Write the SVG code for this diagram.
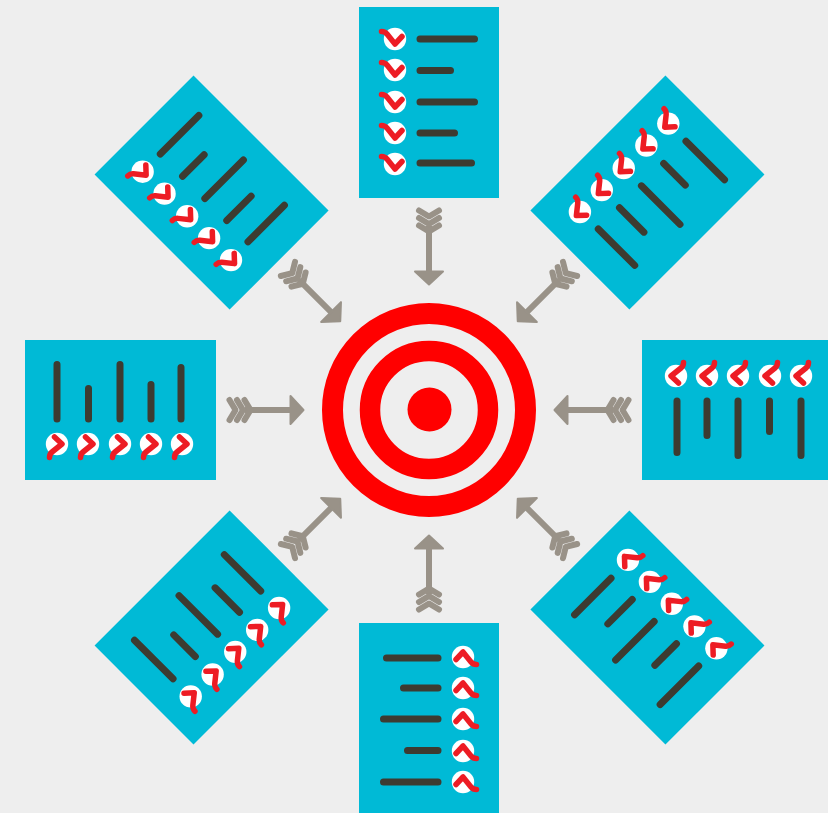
<svg xmlns="http://www.w3.org/2000/svg" xmlns:xlink="http://www.w3.org/1999/xlink" width="828" height="813" viewBox="0 0 828 813">
<style>
.sheet{fill:#00bad6}
.bar{stroke:#3d3b31;stroke-width:7;stroke-linecap:round;fill:none}
.dot{fill:#fff}
.tick{stroke:#ed1c24;stroke-width:5.500;stroke-linecap:round;stroke-linejoin:round;fill:none}
.shaft{stroke:#999288;stroke-width:6;fill:none}
.fletch{stroke:#999288;stroke-width:6;stroke-linecap:round;stroke-linejoin:round;fill:none}
.head{fill:#999288;stroke:#999288;stroke-width:2;stroke-linejoin:round}
.ring{fill:none;stroke:#ff0000}
</style>
<defs>
<path id="tick" class="tick" d="M-13.500-7.500Q-10-7.500-8-5L0 5L7-2.500"/>
<g id="item"><circle class="dot" r="11.200"/><use href="#tick" xlink:href="#tick"/></g>
<g id="doc">
<rect class="sheet" x="359" y="7" width="140" height="191"/>
<use href="#item" xlink:href="#item" x="395" y="39"/>
<use href="#item" xlink:href="#item" x="395" y="70"/>
<use href="#item" xlink:href="#item" x="395" y="102"/>
<use href="#item" xlink:href="#item" x="395" y="133"/>
<use href="#item" xlink:href="#item" x="395" y="164"/>
<path class="bar" d="M420 39H474.500M420 70.500H450.500M420 102H474.500M420 133H454.500M420 163H471.500"/>
</g>
<g id="arrow">
<path class="shaft" d="M429 226V273"/>
<path class="fletch" d="M419 210.500L429 216.500L439 210.500M419 218L429 224L439 218M419 225.500L429 231.500L439 225.500"/>
<path class="head" d="M429 284.500L415 271.500H443Z"/>
</g>
</defs>
<rect width="828" height="813" fill="#eeeeee"/>
<g id="connectors">
<use href="#arrow" xlink:href="#arrow"/>
<use href="#arrow" xlink:href="#arrow" transform="rotate(45 429 410)"/>
<use href="#arrow" xlink:href="#arrow" transform="rotate(90 429 410)"/>
<use href="#arrow" xlink:href="#arrow" transform="rotate(135 429 410)"/>
<use href="#arrow" xlink:href="#arrow" transform="rotate(180 429 410)"/>
<use href="#arrow" xlink:href="#arrow" transform="rotate(225 429 410)"/>
<use href="#arrow" xlink:href="#arrow" transform="rotate(270 429 410)"/>
<use href="#arrow" xlink:href="#arrow" transform="rotate(315 429 410)"/>
</g>
<g id="list-n"><use href="#doc" xlink:href="#doc"/></g>
<g id="list-ne" transform="translate(1 0)"><use href="#doc" xlink:href="#doc" transform="rotate(45 429 410)"/></g>
<g id="list-e" transform="translate(1 0)"><use href="#doc" xlink:href="#doc" transform="rotate(90 429 410)"/></g>
<g id="list-se" transform="translate(1 0)"><use href="#doc" xlink:href="#doc" transform="rotate(135 429 410)"/></g>
<g id="list-s" transform="translate(0 1)"><use href="#doc" xlink:href="#doc" transform="rotate(180 429 410)"/></g>
<g id="list-sw"><use href="#doc" xlink:href="#doc" transform="rotate(225 429 410)"/></g>
<g id="list-w" transform="translate(-1 0)"><use href="#doc" xlink:href="#doc" transform="rotate(270 429 410)"/></g>
<g id="list-nw"><use href="#doc" xlink:href="#doc" transform="rotate(315 429 410)"/></g>
<g id="target">
<circle class="ring" stroke-width="21" cx="429" cy="410" r="96.500"/>
<circle class="ring" stroke-width="20.500" cx="429" cy="410" r="59"/>
<circle cx="429.500" cy="409.500" r="22" fill="#ff0000"/>
</g>
</svg>
